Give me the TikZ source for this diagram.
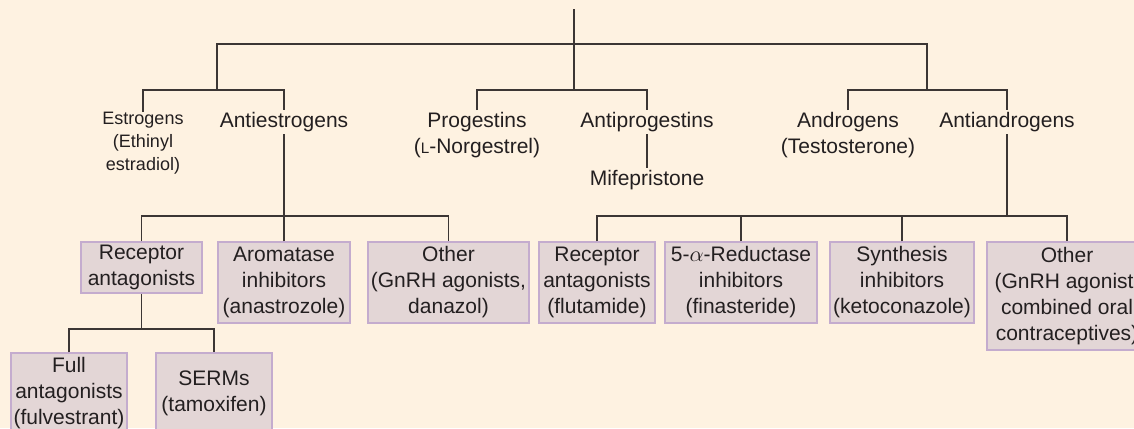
\documentclass[tikz,border=0pt]{standalone}
\usepackage{fontspec}
\setmainfont{Liberation Sans}
\definecolor{bg}{RGB}{254,242,225}
\definecolor{boxfill}{RGB}{227,214,214}
\definecolor{boxborder}{RGB}{196,172,206}
\definecolor{linec}{RGB}{60,54,52}
\definecolor{textc}{RGB}{35,31,32}
\newcommand{\mainsize}{\fontsize{10.5pt}{13pt}\selectfont}
\newcommand{\smallsize}{\fontsize{9pt}{11.5pt}\selectfont}
\newcommand{\smcapL}{{\fontsize{7.6pt}{9pt}\selectfont L}}
\tikzset{
  conn/.style={draw=linec, line width=0.6pt},
  lbl/.style={align=center, text=textc, font=\mainsize, inner xsep=0pt, inner ysep=1pt, anchor=north},
  slbl/.style={lbl, font=\smallsize},
  catbox/.style={draw=boxborder, fill=boxfill, line width=0.75pt, align=center, text=textc,
    font=\mainsize, inner xsep=1pt, inner ysep=0pt},
}
\begin{document}
\begin{tikzpicture}[x=0.5pt,y=-0.5pt]
\useasboundingbox (0,0) rectangle (1134,428);
\fill[bg] (0,0) rectangle (1134,428);
\clip (0,0) rectangle (1134,428);

% junction coordinates
\coordinate (t0) at (574,9);
\coordinate (b0) at (574,44);
\coordinate (jE) at (217,90);
\coordinate (jP) at (574,90);
\coordinate (jA) at (927,90);
\coordinate (bE) at (284,216);
\coordinate (bF) at (141.5,329);
\coordinate (bA) at (1007,216);

% second level labels
\node[slbl, inner ysep=0pt] (estro) at (143,112) {Estrogens\\(Ethinyl\\estradiol)};
\node[lbl] (antiE) at (284,110) {Antiestrogens};
\node[lbl] (prog) at (477,110) {Progestins\\(\smcapL-Norgestrel)};
\node[lbl] (antiP) at (647,110) {Antiprogestins};
\node[lbl] (mife) at (647,168) {Mifepristone};
\node[lbl] (andr) at (848,110) {Androgens\\(Testosterone)};
\node[lbl] (antiA) at (1007,110) {Antiandrogens};

% boxes
\node[catbox, minimum width=60.5pt, minimum height=25.5pt] (recE) at (141.5,267.5) {Receptor\\antagonists};
\node[catbox, minimum width=66pt, minimum height=40.5pt] (arom) at (284,282.5) {Aromatase\\inhibitors\\(anastrozole)};
\node[catbox, minimum width=80.5pt, minimum height=40.5pt] (otherE) at (448.5,282.5) {Other\\(GnRH agonists,\\danazol)};
\node[catbox, minimum width=58pt, minimum height=40.5pt] (full) at (69,393.5) {Full\\antagonists\\(fulvestrant)};
\node[catbox, minimum width=58pt, minimum height=40.5pt] (serm) at (214,393.5) {SERMs\\(tamoxifen)};
\node[catbox, minimum width=58pt, minimum height=40.5pt] (recA) at (597,282.5) {Receptor\\antagonists\\(flutamide)};
\node[catbox, minimum width=76pt, minimum height=40.5pt] (red) at (741,282.5) {5-$\alpha$-Reductase\\inhibitors\\(finasteride)};
\node[catbox, minimum width=72pt, minimum height=40.5pt] (syn) at (902,282.5) {Synthesis\\inhibitors\\(ketoconazole)};
\node[catbox, minimum width=80pt, minimum height=54pt] (otherA) at (1067,296) {Other\\(GnRH agonist,\\combined oral\\contraceptives)};

% connectors
\draw[conn] (t0) -- (jP);
\draw[conn] (jE) |- (b0) -| (jA);
\draw[conn] (estro.north) |- (jE) -| (antiE.north);
\draw[conn] (prog.north) |- (jP) -| (antiP.north);
\draw[conn] (andr.north) |- (jA) -| (antiA.north);
\draw[conn] (antiP.south) -- (mife.north);

\draw[conn] (antiE.south) -- (bE);
\draw[conn] (recE.north) |- (bE) -| (otherE.north);
\draw[conn] (arom.north) -- (arom.north |- bE);

\draw[conn] (recE.south) -- (bF);
\draw[conn] (full.north) |- (bF) -| (serm.north);

\draw[conn] (antiA.south) -- (bA);
\draw[conn] (recA.north) |- (bA) -| (otherA.north);
\draw[conn] (red.north) -- (red.north |- bA);
\draw[conn] (syn.north) -- (syn.north |- bA);
\end{tikzpicture}
\end{document}
